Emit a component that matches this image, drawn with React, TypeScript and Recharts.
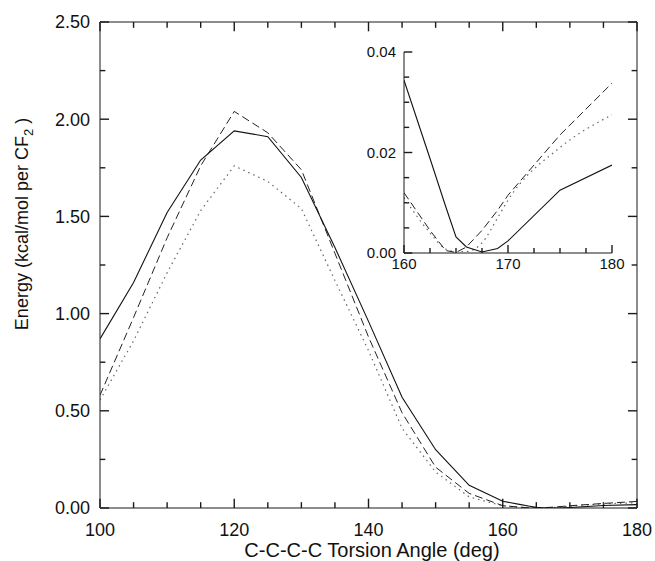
import { Line, LineChart, ReferenceLine, XAxis, YAxis } from "recharts";

// torsion angles (deg) and energies (kcal/mol per CF2)
const angles = [100, 105, 110, 115, 120, 125, 130, 135, 140, 145, 150, 155, 160, 162.5, 164, 165, 166, 167.5, 169, 170, 175, 180];
const solidE = [0.87, 1.16, 1.52, 1.79, 1.94, 1.91, 1.7, 1.34, 0.96, 0.57, 0.3, 0.117, 0.0344, 0.0188, 0.0093, 0.0032, 0.0012, 0.0002, 0.0009, 0.0024, 0.0125, 0.0175];
const dashedE = [0.58, 0.98, 1.39, 1.76, 2.04, 1.93, 1.74, 1.31, 0.88, 0.49, 0.21, 0.075, 0.012, 0.0045, 0.0005, 0.0001, 0.0012, 0.0045, 0.0085, 0.0115, 0.0235, 0.0338];
const dottedE = [0.555, 0.86, 1.21, 1.53, 1.76, 1.68, 1.54, 1.17, 0.81, 0.41, 0.185, 0.057, 0.011, 0.004, 0.0008, 0.0003, 0.0003, 0.002, 0.007, 0.0105, 0.021, 0.0275];

const mainXTicks = [100, 105, 110, 115, 120, 125, 130, 135, 140, 145, 150, 155, 160, 165, 170, 175, 180];
const mainXLabels = [100, 120, 140, 160, 180];
const mainYTicks = [0, 0.25, 0.5, 0.75, 1, 1.25, 1.5, 1.75, 2, 2.25, 2.5];
const mainYLabels = [0, 0.5, 1, 1.5, 2, 2.5];

const insetXTicks = [160, 162.5, 165, 167.5, 170, 172.5, 175, 177.5, 180];
const insetXLabels = [160, 170, 180];
const insetYTicks = [0, 0.005, 0.01, 0.015, 0.02, 0.025, 0.03, 0.035, 0.04];
const insetYLabels = [0, 0.02, 0.04];

const rows = angles.map((a, i) => ({ angle: a, solid: solidE[i], dashed: dashedE[i], dotted: dottedE[i] }));
const insetRows = rows.filter((r) => r.angle >= 160);

const FONT = '"Liberation Sans", Arial, Helvetica, sans-serif';
const INK = "#1a1a1a";

const isIn = (v: number, list: number[]) => list.some((l) => Math.abs(l - v) < 1e-9);

// labels only (tick marks are drawn inward as reference segments)
function makeLabel(side: "bottom" | "left", labels: number[], fontSize: number, digits: number) {
  return function Tick(props: any) {
    const v = Number(props.payload.value);
    if (!isIn(v, labels)) return <g />;
    return (
      <text
        x={props.x}
        y={props.y}
        dy={side === "bottom" ? "0.71em" : "0.36em"}
        textAnchor={side === "bottom" ? "middle" : "end"}
        fontSize={fontSize}
        fontFamily={FONT}
        fill="#111"
      >
        {v.toFixed(digits)}
      </text>
    );
  };
}

// inward tick marks on the frame, lengths in data units of the other axis
function tickSegments(
  xTicks: number[], xLabels: number[], yTicks: number[], yLabels: number[],
  x0: number, x1: number, y0: number, y1: number,
  xMaj: number, xMin: number, yMaj: number, yMin: number, box: boolean, id: string,
) {
  const out: any[] = [];
  const st = { stroke: INK, strokeWidth: 1.4, ifOverflow: "visible" as const };
  xTicks.forEach((t) => {
    const h = isIn(t, xLabels) ? yMaj : yMin;
    out.push(<ReferenceLine key={`${id}b${t}`} segment={[{ x: t, y: y0 }, { x: t, y: y0 + h }]} {...st} />);
    if (box) out.push(<ReferenceLine key={`${id}t${t}`} segment={[{ x: t, y: y1 }, { x: t, y: y1 - h }]} {...st} />);
  });
  yTicks.forEach((t) => {
    const w = isIn(t, yLabels) ? xMaj : xMin;
    out.push(<ReferenceLine key={`${id}l${t}`} segment={[{ x: x0, y: t }, { x: x0 + w, y: t }]} {...st} />);
    if (box) out.push(<ReferenceLine key={`${id}r${t}`} segment={[{ x: x1, y: t }, { x: x1 - w, y: t }]} {...st} />);
  });
  return out;
}

function YTitle() {
  return (
    <text transform="rotate(-90, 28, 224)" x={28} y={224} textAnchor="middle" fontSize={18} fontFamily={FONT} fill="#111">
      <tspan>Energy (kcal/mol per CF</tspan>
      <tspan fontSize={13} dy={5}>2</tspan>
      <tspan dy={-5}> )</tspan>
    </text>
  );
}

function XTitle() {
  return (
    <text x={372} y={557} textAnchor="middle" fontSize={20} fontFamily={FONT} fill="#111">
      C-C-C-C Torsion Angle (deg)
    </text>
  );
}

const axisLine = { stroke: INK, strokeWidth: 1 };

export default function App() {
  return (
    <div style={{ position: "absolute", left: 0, top: 0, width: 655, height: 561, background: "#fff" }}>
      <LineChart width={655} height={561} data={rows} margin={{ top: 22, right: 18, bottom: 0, left: 0 }}>
        <XAxis
          dataKey="angle"
          type="number"
          domain={[100, 180]}
          allowDataOverflow
          ticks={mainXTicks}
          interval={0}
          height={53}
          tickSize={0}
          tickMargin={15}
          tickLine={false}
          axisLine={axisLine}
          tick={makeLabel("bottom", mainXLabels, 18, 0)}
          label={<XTitle />}
        />
        <YAxis
          type="number"
          domain={[0, 2.5]}
          allowDataOverflow
          ticks={mainYTicks}
          interval={0}
          width={100}
          tickSize={0}
          tickMargin={10}
          tickLine={false}
          axisLine={axisLine}
          tick={makeLabel("left", mainYLabels, 18, 2)}
          label={<YTitle />}
        />
        <ReferenceLine y={2.5} stroke={INK} strokeWidth={1} />
        <ReferenceLine x={180} stroke={INK} strokeWidth={1} />
        {tickSegments(mainXTicks, mainXLabels, mainYTicks, mainYLabels, 100, 180, 0, 2.5, 1.35, 0.8, 0.048, 0.03, true, "m")}
        <Line type="linear" dataKey="dotted" stroke="#666" strokeWidth={1.2} strokeDasharray="1.5 4" dot={false} isAnimationActive={false} />
        <Line type="linear" dataKey="dashed" stroke="#222" strokeWidth={1} strokeDasharray="8 4" dot={false} isAnimationActive={false} />
        <Line type="linear" dataKey="solid" stroke="#111" strokeWidth={1.1} dot={false} isAnimationActive={false} />
      </LineChart>

      <div style={{ position: "absolute", left: 340, top: 30, width: 290, height: 260 }}>
        <LineChart width={290} height={260} data={insetRows} margin={{ top: 22, right: 18, bottom: 0, left: 0 }}>
          <XAxis
            dataKey="angle"
            type="number"
            domain={[160, 180]}
            allowDataOverflow
            ticks={insetXTicks}
            interval={0}
            height={37}
            tickSize={0}
            tickMargin={5}
            tickLine={false}
            axisLine={axisLine}
            tick={makeLabel("bottom", insetXLabels, 15, 0)}
          />
          <YAxis
            type="number"
            domain={[0, 0.04]}
            allowDataOverflow
            ticks={insetYTicks}
            interval={0}
            width={64}
            tickSize={0}
            tickMargin={8}
            tickLine={false}
            axisLine={axisLine}
            tick={makeLabel("left", insetYLabels, 15, 2)}
          />
          {tickSegments(insetXTicks, insetXLabels, insetYTicks, insetYLabels, 160, 180, 0, 0.04, 0.8, 0.5, 0.0016, 0.001, false, "i")}
          <Line type="monotone" dataKey="dotted" stroke="#666" strokeWidth={1.2} strokeDasharray="1.5 4" dot={false} isAnimationActive={false} />
          <Line type="linear" dataKey="dashed" stroke="#222" strokeWidth={1} strokeDasharray="8 4" dot={false} isAnimationActive={false} />
          <Line type="linear" dataKey="solid" stroke="#111" strokeWidth={1.1} dot={false} isAnimationActive={false} />
        </LineChart>
      </div>
    </div>
  );
}
